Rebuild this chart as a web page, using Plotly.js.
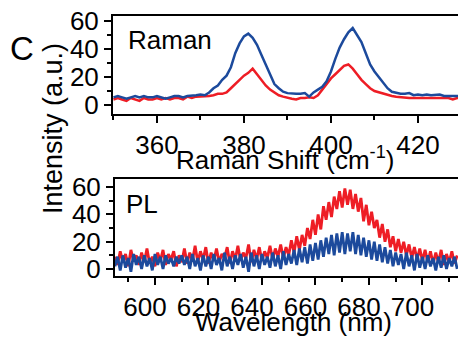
<!DOCTYPE html>
<html>
<head>
<meta charset="utf-8">
<script src="https://cdn.plot.ly/plotly-3.0.1.min.js"></script>
<style>html,body{margin:0;padding:0;overflow:hidden;background:#fff}#chart{width:458px;height:337px}</style>
</head>
<body>
<div id="chart"></div>
<script>
// Raman spectra, 350..430 cm-1 step 1
const ramanStart = 350, ramanStep = 1;
const ramanBlue = [5.5,6.5,5.5,4.5,5.5,6.5,5.5,6.5,5.5,5.5,6.5,5.5,4.5,5.5,6.5,6.5,5.5,6.5,6.5,7,7.5,7,9,12,14,18,21,27,37,44,49,51,48,43,36,29,21,15,12,9.5,8.5,8,8,8,8.5,6,9,11,13,17,24,33,41,47,52,55,50,45,37,29,24,20,16,12,9.5,8.5,8,8,8.5,7,7.5,7,7.5,7,7,7.5,6.5,6.5,6,6.5,6.5];
const ramanRed = [4,5,4,3,5,4,3,5,4,4,5,4,5,4,5,5,4,6,5,6,6,6.5,6.5,7,8,8,9,12,15,18,21,23,26,22,18,14,11,9,7,6,5,4.5,4,5,5,5.5,5,7,11,15,19,22,25,28,29,26,22,18,15,12,10,9,8,7,6.5,6,5.5,5.5,5,5,5,5,5.5,5,5,5,5,5,4,5,5];
// PL spectra, 585..713 nm step 1
const plStart = 585, plStep = 1;
const plRed = [9,3,13,5,11,2,14,6,10,3,12,5,15,4,9,2,
 12,6,14,3,11,7,13,2,10,5,15,4,12,6,17,5,13,7,16,4,
 12,6,15,5,11,8,16,4,13,7,17,6,12,8,18,5,14,7,16,6,
 13,8,17,7,15,9,18,8,16,10,
 21,12,24,14,25,17,
 30,22,36,25,40,29,
 46,36,49,38,53,
 44,57,45,59,47,58,
 44,55,42,52,
 35,47,32,42,30,
 36,23,33,20,29,
 16,24,13,22,12,20,10,18,
 8,16,7,15,6,14,5,
 13,4,12,5,14,3,11,5,13,4,10];
const plBlue = [2,9,-1,10,1,8,-2,11,3,9,0,10,2,8,-1,11,3,9,0,10,4,8,2,9,4,10,3,9,0,11,2,8,-1,10,2,9,0,11,3,8,-1,12,2,9,0,10,3,11,1,9,-2,12,2,10,0,11,3,9,1,12,2,10,0,13,3,11,
 4,14,3,15,5,16,4,18,6,19,7,21,
 9,23,11,25,10,26,12,27,11,26,13,27,11,25,10,
 23,9,21,7,20,6,18,5,16,4,
 14,2,12,3,11,0,12,2,10,-1,11,1,9,0,10,2,8,-1,9,1,10,0,8,2,9,0];
const ramanTicks = [360,380,400,420];
const plTicks = [600,620,640,660,680,700];
const intensityTicks = [0,20,40,60];

const RED = '#ee1d25', BLUE = '#1c4a9c';
const W = 458, H = 337;
const FONT = 'Arial, "Liberation Sans", Helvetica, sans-serif';
const px = x => x / W, py = y => 1 - y / H;

const traces = [
  {x0: ramanStart, dx: ramanStep, y: ramanRed, type: 'scatter', mode: 'lines', line: {color: RED, width: 2.5}, xaxis: 'x', yaxis: 'y'},
  {x0: ramanStart, dx: ramanStep, y: ramanBlue, type: 'scatter', mode: 'lines', line: {color: BLUE, width: 2.5}, xaxis: 'x', yaxis: 'y'},
  {x0: plStart, dx: plStep, y: plRed, type: 'scatter', mode: 'lines', line: {color: RED, width: 2.8}, xaxis: 'x2', yaxis: 'y2'},
  {x0: plStart, dx: plStep, y: plBlue, type: 'scatter', mode: 'lines', line: {color: BLUE, width: 2.8}, xaxis: 'x2', yaxis: 'y2'}
];

const axBase = {
  showline: true, linecolor: '#000', linewidth: 2,
  ticks: 'outside', ticklen: 7, tickwidth: 2, tickcolor: '#000',
  showgrid: false, zeroline: false,
  tickfont: {family: FONT, size: 26, color: '#000'},
  minor: {ticks: 'outside', ticklen: 4, tickwidth: 2, tickcolor: '#000', showgrid: false}
};

const layout = {
  width: W, height: H,
  margin: {l: 0, r: 0, t: 0, b: 0},
  paper_bgcolor: '#fff', plot_bgcolor: '#fff',
  showlegend: false,
  xaxis: Object.assign({}, axBase, {
    domain: [px(113), 1], range: [349.9, 429.2], anchor: 'y', mirror: true,
    tickvals: ramanTicks, minor: Object.assign({}, axBase.minor, {dtick: 10, tick0: 350})
  }),
  yaxis: Object.assign({}, axBase, {
    domain: [py(114), py(16)], range: [-6.4, 63.6], anchor: 'x', mirror: false,
    tickvals: intensityTicks, minor: Object.assign({}, axBase.minor, {dtick: 10, tick0: 0})
  }),
  xaxis2: Object.assign({}, axBase, {
    domain: [px(115), 1], range: [585.05, 713.3], anchor: 'y2', mirror: true,
    tickvals: plTicks, ticklabelshift: -10,
    minor: Object.assign({}, axBase.minor, {dtick: 10, tick0: 590})
  }),
  yaxis2: Object.assign({}, axBase, {
    domain: [py(276), py(179)], range: [-5.1, 65.9], anchor: 'x2', mirror: false,
    tickvals: intensityTicks, minor: Object.assign({}, axBase.minor, {dtick: 10, tick0: 0})
  }),
  annotations: [
    {text: 'Raman', x: px(170), y: py(40), xref: 'paper', yref: 'paper', xanchor: 'center', yanchor: 'middle', showarrow: false, font: {family: FONT, size: 26, color: '#000'}},
    {text: 'PL', x: px(142), y: py(204), xref: 'paper', yref: 'paper', xanchor: 'center', yanchor: 'middle', showarrow: false, font: {family: FONT, size: 26, color: '#000'}},
    {text: 'C', x: px(22), y: py(48), xref: 'paper', yref: 'paper', xanchor: 'center', yanchor: 'middle', showarrow: false, font: {family: FONT, size: 33, color: '#000'}},
    {text: 'Intensity (a.u.)', x: px(53), y: py(129), xref: 'paper', yref: 'paper', xanchor: 'center', yanchor: 'middle', showarrow: false, textangle: -90, font: {family: FONT, size: 27, color: '#000'}},
    {text: 'Raman Shift (cm<sup>-1</sup>)', x: px(285), y: py(158), xref: 'paper', yref: 'paper', xanchor: 'center', yanchor: 'middle', showarrow: false, font: {family: FONT, size: 26, color: '#000'}},
    {text: 'Wavelength (nm)', x: px(293), y: py(322), xref: 'paper', yref: 'paper', xanchor: 'center', yanchor: 'middle', showarrow: false, font: {family: FONT, size: 26, color: '#000'}}
  ]
};

Plotly.newPlot('chart', traces, layout, {staticPlot: true, displayModeBar: false});
</script>
</body>
</html>
